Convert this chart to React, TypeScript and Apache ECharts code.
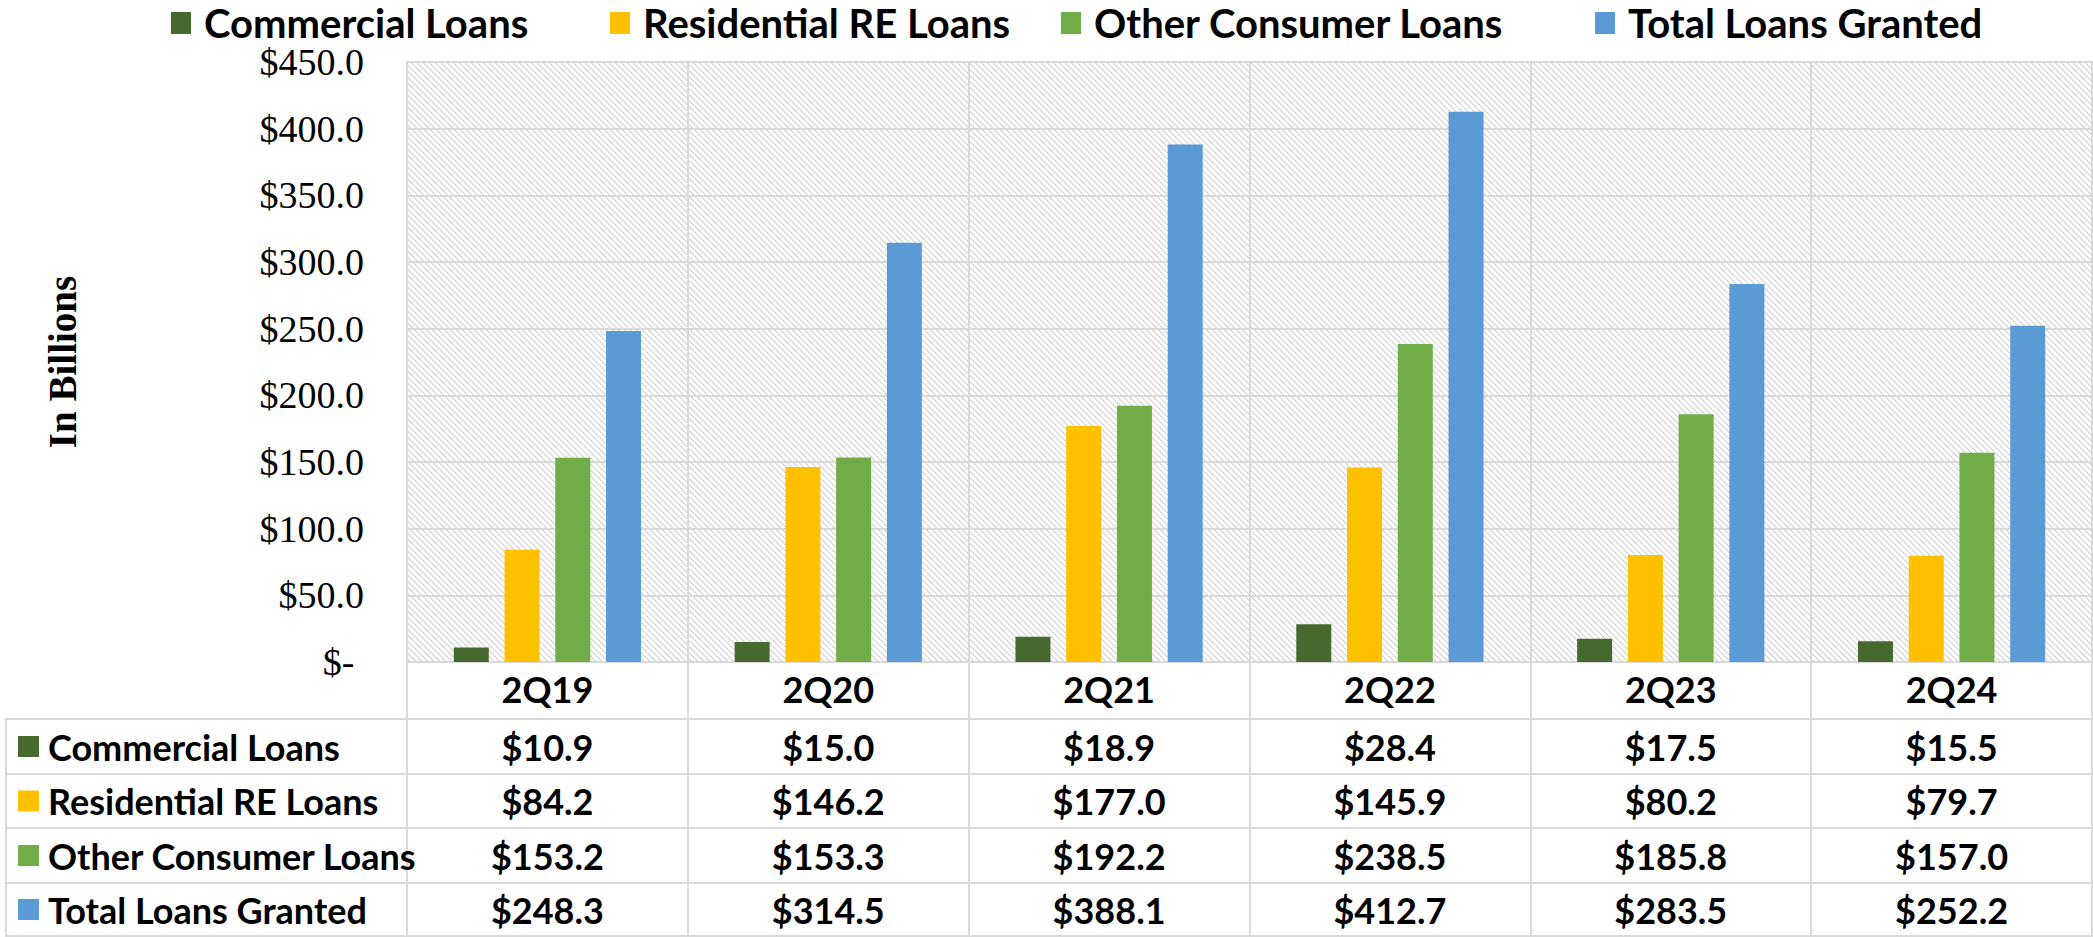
import React, { useEffect, useRef } from "react";
import * as echarts from "echarts";

const categories = ["2Q19", "2Q20", "2Q21", "2Q22", "2Q23", "2Q24"];
const seriesNames = ["Commercial Loans", "Residential RE Loans", "Other Consumer Loans", "Total Loans Granted"];
const commercialLoans = [10.9, 15.0, 18.9, 28.4, 17.5, 15.5];
const residentialLoans = [84.2, 146.2, 177.0, 145.9, 80.2, 79.7];
const otherConsumerLoans = [153.2, 153.3, 192.2, 238.5, 185.8, 157.0];
const totalLoansGranted = [248.3, 314.5, 388.1, 412.7, 283.5, 252.2];
const seriesColors = ["#466A2E", "#FFC000", "#70AD47", "#5B9BD5"];
const yMin = 0;
const yMax = 450;
const yInterval = 50;

const NARROW = 'Lato, "Liberation Sans Narrow", sans-serif';
const SERIF = '"Liberation Serif", "Times New Roman", serif';
const LINE = "#d9d9d9";

function makeHatch(): HTMLCanvasElement {
  const c = document.createElement("canvas");
  const p = 6;
  c.width = p;
  c.height = p;
  const ctx = c.getContext("2d")!;
  ctx.fillStyle = "#ffffff";
  ctx.fillRect(0, 0, p, p);
  ctx.fillStyle = "#dcdcdc";
  for (let i = 0; i < p; i++) {
    ctx.fillRect(i, i, 1, 1);
    ctx.fillRect((i + 1) % p, i, 1, 1);
  }
  return c;
}

export default function App() {
  const ref = useRef<HTMLDivElement>(null);
  useEffect(() => {
    if (!ref.current) return;
    const chart = echarts.init(ref.current, undefined, { renderer: "svg" });
    const allSeries = [commercialLoans, residentialLoans, otherConsumerLoans, totalLoansGranted];
    const legendLefts = [171, 610, 1061, 1595];
    const gridTop = 62;
    const gridBottomY = 662;
    const option: any = {
      animation: false,
      backgroundColor: "#ffffff",
      legend: seriesNames.map((n, i) => ({
        data: [n],
        left: legendLefts[i],
        top: 3,
        padding: 0,
        icon: "rect",
        itemWidth: 20,
        itemHeight: 22,
        textStyle: {
          fontFamily: NARROW,
          fontWeight: "bold",
          fontSize: 40,
          color: "#000",
          lineHeight: 40,
          padding: [0, 0, 0, 8],
        },
      })),
      grid: {
        show: true,
        left: 407,
        right: 1,
        top: gridTop,
        bottom: 937 - gridBottomY,
        backgroundColor: { image: makeHatch(), repeat: "repeat", imageWidth: 6, imageHeight: 6 },
        borderColor: LINE,
        borderWidth: 2,
      },
      xAxis: {
        type: "category",
        data: categories,
        axisLine: { show: true, lineStyle: { color: LINE, width: 2 } },
        axisTick: { show: true, length: 275, lineStyle: { color: LINE, width: 2 } },
        splitLine: { show: true, lineStyle: { color: LINE, width: 2 } },
        axisLabel: {
          margin: 9,
          fontFamily: NARROW,
          fontWeight: "bold",
          fontSize: 36,
          color: "#000",
        },
      },
      yAxis: {
        type: "value",
        min: yMin,
        max: yMax,
        interval: yInterval,
        name: "In Billions",
        nameLocation: "middle",
        nameRotate: 90,
        nameGap: 325,
        nameTextStyle: { fontFamily: SERIF, fontWeight: "bold", fontSize: 39, color: "#000" },
        axisLine: { show: false },
        axisTick: { show: false },
        splitLine: { show: true, lineStyle: { color: LINE, width: 2 } },
        axisLabel: {
          margin: 43,
          fontFamily: SERIF,
          fontSize: 38,
          lineHeight: 30,
          color: "#000",
          formatter: (v: number) => (v === 0 ? "$-\u00a0" : "$" + v.toFixed(1)),
        },
      },
      series: seriesNames.map((n, i) => ({
        name: n,
        type: "bar",
        data: allSeries[i],
        barWidth: 35,
        barGap: "45%",
        itemStyle: { color: seriesColors[i] },
      })),
    };
    chart.setOption(option);

    const rowLines = [719, 774, 828, 883, 936];
    const graphics: any[] = [];
    rowLines.forEach((y) => {
      graphics.push({
        type: "line",
        shape: { x1: 5, y1: y, x2: 2093, y2: y },
        style: { stroke: LINE, lineWidth: 2 },
        z: 10,
      });
    });
    graphics.push({
      type: "line",
      shape: { x1: 6, y1: 718, x2: 6, y2: 937 },
      style: { stroke: LINE, lineWidth: 2 },
      z: 10,
    });
    for (let r = 0; r < 4; r++) {
      const cy = (rowLines[r] + rowLines[r + 1]) / 2;
      graphics.push({
        type: "rect",
        shape: { x: 18, y: cy - 10.5, width: 21, height: 21 },
        style: { fill: seriesColors[r] },
        z: 10,
      });
      graphics.push({
        type: "text",
        x: 48,
        y: cy,
        style: {
          text: seriesNames[r],
          fontFamily: NARROW,
          fontWeight: "bold",
          fontSize: 36,
          fill: "#000",
          align: "left",
          verticalAlign: "middle",
        },
        z: 10,
      });
      categories.forEach((c, i) => {
        const cx = chart.convertToPixel({ xAxisIndex: 0 }, c) as number;
        graphics.push({
          type: "text",
          x: cx,
          y: cy,
          style: {
            text: "$" + allSeries[r][i].toFixed(1),
            fontFamily: NARROW,
            fontWeight: "bold",
            fontSize: 36,
            fill: "#000",
            align: "center",
            verticalAlign: "middle",
          },
          z: 10,
        });
      });
    }
    chart.setOption({ graphic: graphics });
    return () => chart.dispose();
  }, []);
  return (
    <div
      ref={ref}
      style={{ position: "fixed", left: 0, top: 0, width: 2093, height: 937, background: "#fff" }}
    />
  );
}
